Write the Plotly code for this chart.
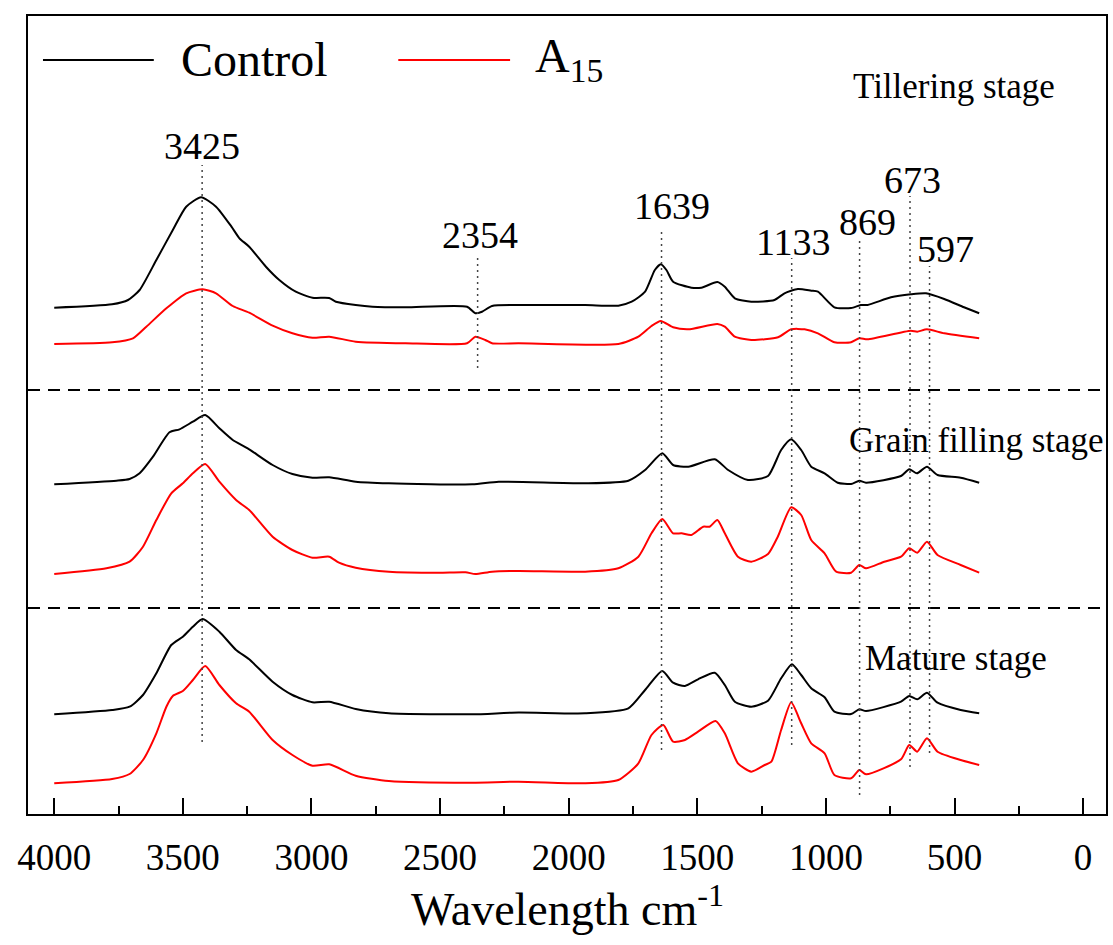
import plotly.graph_objects as go

# ---------------- data ----------------
ctrl_till_wn = [4000,3775,3713,3668,3603,3539,3487,3429,3371,3311,3280,3242,3177,3125,3061,2996,2931,2905,2828,2763,
                2634,2395,2363,2337,2298,2195,1936,1807,1755,1703,1665,1642,1620,1594,1523,1484,1422,1393,1354,1290,
                1200,1161,1109,1057,1031,967,902,864,838,747,670,611,540,463,404]
ctrl_till_val = [506.3,509.7,514,524,554,584,607.3,616.7,607.3,587.3,575.7,567.3,547.3,534,522.3,516.3,516,512.3,509,507.3,
                 506.7,507.3,500.7,502.3,508,509,509,508.3,512.3,522.3,544,549.7,544,532.3,526.3,526.3,532,527.3,515.7,512.3,
                 514,520.7,525,523.3,522.3,506.7,506,509,509,516.7,519.7,520.7,515,506.7,500.7]

a15_till_wn = [4000,3775,3694,3642,3564,3487,3423,3371,3306,3242,3151,3074,2996,2931,2828,2634,2395,2363,2324,2298,
               2195,1807,1729,1678,1642,1594,1535,1422,1393,1354,1290,1186,1135,1083,1031,967,902,870,838,670,
               645,607,540,404]
a15_till_val = [470,471.7,475.7,487.3,505.7,520.7,524.7,520.7,508,501.3,488.3,480.7,476.3,477.3,472.3,470.7,470.7,477.3,474,470.7,
                470.7,470,477.3,488,493,486.7,484.7,490,487.3,477.3,474,476.7,484.7,484.7,480.7,471.7,471.7,475.7,474.7,483.3,
                482.3,484.7,480.7,475.7]

ctrl_fill_wn = [4000,3758,3707,3668,3616,3552,3513,3461,3413,3358,3306,3248,3151,3074,2996,2931,2828,2699,2375,2272,
                1936,1768,1703,1636,1594,1535,1432,1380,1303,1225,1174,1135,1096,1057,1005,954,902,870,844,708,
                676,646,607,566,476,404]
ctrl_fill_val = [329.7,333.3,335,340.7,357.3,381.7,384.7,392.3,399,385.7,374,365.7,349,340,336.3,336.7,332.3,330.7,329.7,332.3,
                 330.7,333.3,344,360.7,349,347.3,354.7,344,334,338,364,374.7,364,347.3,340.7,331.3,330,333.3,331.3,338,
                 344.7,340.7,347.3,339,336.3,331.3]

a15_fill_wn = [4000,3797,3707,3655,3603,3545,3500,3461,3413,3358,3293,3242,3151,3074,2996,2931,2893,2828,2699,2505,
               2401,2363,2298,2195,1936,1807,1729,1678,1636,1594,1561,1523,1477,1452,1422,1393,1342,1290,1225,1187,
               1135,1096,1057,1005,960,902,870,844,773,708,676,645,607,566,476,404]
a15_fill_val = [240,245.7,252.3,267.3,294,320.7,330.7,340.7,350,332.3,314,304,277.3,264,256.3,257.3,251.3,246.3,242.3,241.3,
                241.7,240,242.3,243,242.3,245.7,257.3,280.7,295,280.7,280.7,279,287.3,287.3,294,280.7,257.3,252.3,260,277.3,
                306.7,299,274,260.7,242.3,241.3,249,245.7,252.3,257.3,265.7,261.3,272.3,259,249,241.3]

ctrl_mat_wn = [4000,3775,3707,3655,3603,3545,3500,3461,3423,3358,3293,3242,3151,3074,2996,2931,2828,2699,2375,2195,
               1936,1768,1703,1636,1594,1548,1497,1432,1393,1354,1290,1225,1174,1132,1096,1057,1005,967,902,870,
               844,708,676,645,607,566,476,404]
ctrl_mat_val = [99.7,104,107.3,119,140.7,169,177.3,187.3,195,182.3,164,154.7,132.3,119,111.7,112.3,105,100.7,99.7,101.5,
                100.7,105.7,124,143,131.3,128,134.7,141.3,129,112.3,107.3,113.3,135.7,149.7,139,125.7,116.7,102.3,100,104.7,
                103,112.3,118,114.7,121.3,111.3,104,100.7]

a15_mat_wn = [4000,3775,3707,3655,3603,3564,3539,3500,3461,3413,3358,3293,3242,3151,3074,2996,2931,2828,2699,2375,
              2195,1936,1807,1729,1678,1632,1594,1548,1497,1429,1393,1342,1290,1238,1212,1174,1135,1096,1057,1005,
              967,902,870,844,708,676,645,607,566,476,404]
a15_mat_val = [30.7,35,40,54,80.7,107.3,118,123,134,148,129,110.7,102.3,74,59,48.3,49.7,38.3,33,31.3,
               32.3,30.7,34,50.7,79,89,72.3,74,82.3,93,80.7,50.7,42.3,49,52.3,84,111.7,90.7,70.7,60.7,
               39,35.7,44,39.7,54.7,69,62.3,75.7,62.3,54,49]

# peak markers: position, dotted line top/bottom, label x, label y
peak_labels = ["3425", "2354", "1639", "1133", "869", "673", "597"]
peak_wn     = [3425, 2354, 1639, 1133, 869, 673, 597]
peak_top    = [649, 559, 584, 556, 576, 618, 548]
peak_bottom = [72, 446, 64, 69, 19, 47, 61]
label_x     = [3425, 2346, 1600, 1124, 837, 663, 535]
label_y     = [668, 579, 608, 572, 592, 634, 565]

separator_levels = [424, 206]

stage_names = ["Tillering stage", "Grain filling stage", "Mature stage"]
stage_x = [0.859, 0.880, 0.861]
stage_y = [728, 374, 156]

tick_values = [4000, 3500, 3000, 2500, 2000, 1500, 1000, 500, 0]

series = [
    ("Control", ctrl_till_wn, ctrl_till_val, "#000000"),
    ("A15", a15_till_wn, a15_till_val, "#ff0000"),
    ("Control", ctrl_fill_wn, ctrl_fill_val, "#000000"),
    ("A15", a15_fill_wn, a15_fill_val, "#ff0000"),
    ("Control", ctrl_mat_wn, ctrl_mat_val, "#000000"),
    ("A15", a15_mat_wn, a15_mat_val, "#ff0000"),
]

FONT = "Liberation Serif"

fig = go.Figure()
for name, wn, val, col in series:
    fig.add_trace(go.Scatter(x=wn, y=val, mode="lines", name=name,
                             line=dict(color=col, width=2, shape="spline", smoothing=0.6),
                             showlegend=False, hoverinfo="skip"))

shapes = []
for lv in separator_levels:
    shapes.append(dict(type="line", xref="paper", yref="y", x0=0, x1=1, y0=lv, y1=lv,
                       line=dict(color="black", width=2, dash="12px,8px")))
for w, t, b in zip(peak_wn, peak_top, peak_bottom):
    shapes.append(dict(type="line", xref="x", yref="y", x0=w, x1=w, y0=b, y1=t,
                       line=dict(color="#444444", width=1.5, dash="2px,4px")))
# legend samples
shapes.append(dict(type="line", xref="paper", yref="y", x0=0.0139, x1=0.1167, y0=754, y1=754,
                   line=dict(color="#000000", width=2)))
shapes.append(dict(type="line", xref="paper", yref="y", x0=0.3435, x1=0.4472, y0=754, y1=754,
                   line=dict(color="#ff0000", width=2)))

annotations = []
for txt, x, y in zip(peak_labels, label_x, label_y):
    annotations.append(dict(text=txt, x=x, y=y, xref="x", yref="y", showarrow=False,
                            xanchor="center", yanchor="middle", font=dict(size=38, family=FONT, color="black")))
for txt, x, y in zip(stage_names, stage_x, stage_y):
    annotations.append(dict(text=txt, x=x, y=y, xref="paper", yref="y", showarrow=False,
                            xanchor="center", yanchor="middle", font=dict(size=35, family=FONT, color="black")))
annotations.append(dict(text="Control", x=0.1398, y=755, xref="paper", yref="y", showarrow=False,
                        xanchor="left", yanchor="middle", font=dict(size=48, family=FONT, color="black")))
annotations.append(dict(text="A<sub>15</sub>", x=0.4685, y=755, xref="paper", yref="y", showarrow=False,
                        xanchor="left", yanchor="middle", font=dict(size=48, family=FONT, color="black")))
annotations.append(dict(text="Wavelength cm<sup>-1</sup>", x=0.5, y=-0.115, xref="paper", yref="paper",
                        showarrow=False, xanchor="center", yanchor="middle",
                        font=dict(size=46, family=FONT, color="black")))

fig.update_layout(
    width=1113, height=945,
    margin=dict(l=28, r=5, t=16, b=131),
    plot_bgcolor="white", paper_bgcolor="white",
    showlegend=False,
    font=dict(family=FONT, color="black"),
    shapes=shapes, annotations=annotations,
)
fig.update_xaxes(range=[4102, -89], tickvals=tick_values, ticktext=[str(v) for v in tick_values],
                 ticks="inside", ticklen=16, tickwidth=2, tickcolor="black",
                 showline=True, linewidth=2, linecolor="black", mirror=True,
                 showgrid=False, zeroline=False,
                 tickfont=dict(size=37, family=FONT, color="black"), ticklabelstandoff=10,
                 minor=dict(ticks="inside", ticklen=8, tickwidth=2, tickcolor="black", dtick=250, tick0=0,
                            showgrid=False))
fig.update_yaxes(range=[0, 798], showticklabels=False, ticks="",
                 showline=True, linewidth=2, linecolor="black", mirror=True,
                 showgrid=False, zeroline=False)

fig.write_html("out.html", config={"displayModeBar": False},
               post_script="document.body.style.margin='0px';")
